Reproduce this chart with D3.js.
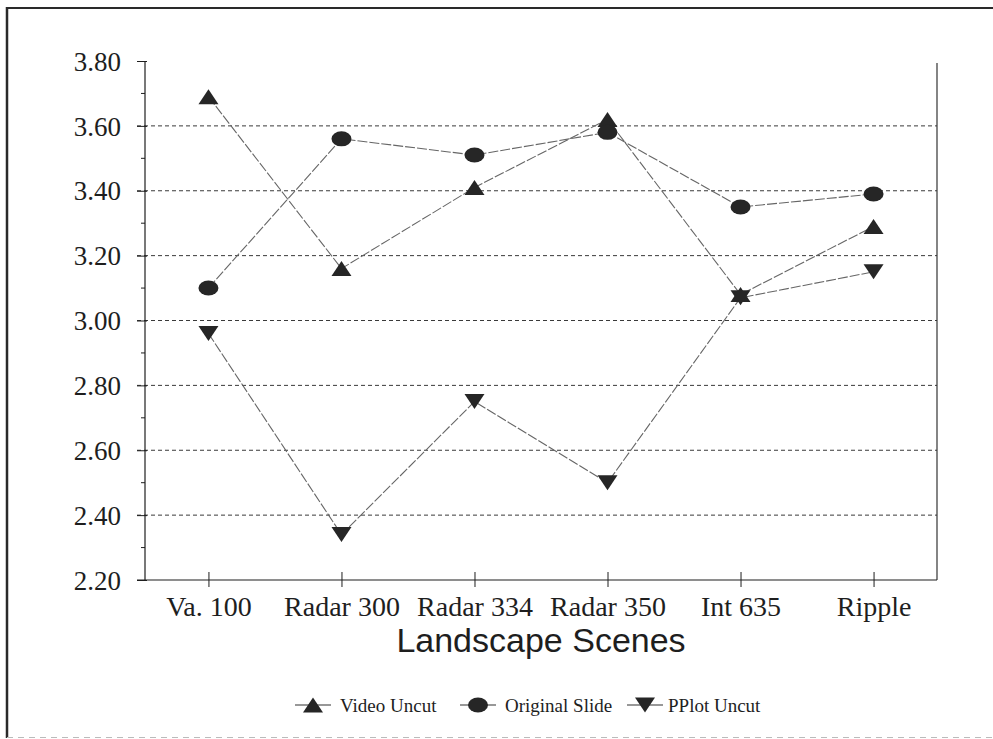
<!DOCTYPE html>
<html>
<head>
<meta charset="utf-8">
<script src="https://cdn.jsdelivr.net/npm/d3@7"></script>
<style>
  html, body { margin: 0; padding: 0; background: #fff; }
  svg { display: block; }
</style>
</head>
<body>
<svg id="chart" width="993" height="739"></svg>
<script>
const categories = ["Va. 100", "Radar 300", "Radar 334", "Radar 350", "Int 635", "Ripple"];
const videoUncut    = [3.69, 3.16, 3.41, 3.62, 3.08, 3.29];
const originalSlide = [3.10, 3.56, 3.51, 3.58, 3.35, 3.39];
const pplotUncut    = [2.96, 2.34, 2.75, 2.50, 3.07, 3.15];
const yTickValues = [2.20, 2.40, 2.60, 2.80, 3.00, 3.20, 3.40, 3.60, 3.80];
const yTickLabels = ["2.20", "2.40", "2.60", "2.80", "3.00", "3.20", "3.40", "3.60", "3.80"];
const yMinorTicks = [2.30, 2.50, 2.70, 2.90, 3.10, 3.30, 3.50, 3.70];
const seriesNames = ["Video Uncut", "Original Slide", "PPlot Uncut"];
const xTitle = "Landscape Scenes";

const series = [
  { name: seriesNames[0], values: videoUncut, shape: "up" },
  { name: seriesNames[1], values: originalSlide, shape: "circle" },
  { name: seriesNames[2], values: pplotUncut, shape: "down" }
];

const svg = d3.select("#chart");
const pL = 145, pR = 937, pT = 61, pB = 580;
const ink = "#1e1e1e";

const x = d3.scalePoint().domain(categories).range([pL, pR]).padding(0.477);
const y = d3.scaleLinear().domain([2.2, 3.8]).range([pB, pT]);

// outer frame (scanned page border)
svg.append("line").attr("x1", 7).attr("x2", 7).attr("y1", 7).attr("y2", 738)
  .attr("stroke", "#2a2a2a").attr("stroke-width", 2.5);
svg.append("line").attr("x1", 6).attr("x2", 993).attr("y1", 8).attr("y2", 8)
  .attr("stroke", "#2a2a2a").attr("stroke-width", 2);
svg.append("line").attr("x1", 7).attr("x2", 993).attr("y1", 737.5).attr("y2", 737.5)
  .attr("stroke", "#bbb").attr("stroke-width", 1).attr("stroke-dasharray", "6,5");

// gridlines
svg.append("g").selectAll("line")
  .data(yTickValues.filter(v => v > 2.2 && v < 3.8))
  .join("line")
  .attr("x1", pL - 8).attr("x2", pR)
  .attr("y1", d => y(d)).attr("y2", d => y(d))
  .attr("stroke", "#3a3a3a").attr("stroke-width", 1)
  .attr("stroke-dasharray", "4,3");

// left axis
const yAxis = d3.axisLeft(y).tickValues(yTickValues)
  .tickFormat((d, i) => yTickLabels[i]).tickSize(8).tickPadding(16);
const gy = svg.append("g").attr("transform", `translate(${pL},0)`).call(yAxis);
gy.select(".domain").remove();
gy.selectAll(".tick line").attr("stroke", ink).attr("x2", -8).attr("x1", 2);
gy.selectAll(".tick text")
  .attr("font-family", "'Liberation Serif', 'Times New Roman', serif")
  .attr("font-size", 27).attr("fill", ink).attr("dy", "0.34em");
svg.append("line").attr("x1", pL).attr("x2", pL).attr("y1", pT).attr("y2", pB)
  .attr("stroke", ink).attr("stroke-width", 1.2);
svg.append("g").selectAll("line").data(yMinorTicks).join("line")
  .attr("x1", pL - 4).attr("x2", pL)
  .attr("y1", d => y(d)).attr("y2", d => y(d))
  .attr("stroke", ink).attr("stroke-width", 1);

// right frame line
svg.append("line").attr("x1", pR).attr("x2", pR).attr("y1", pT + 2).attr("y2", pB)
  .attr("stroke", "#333").attr("stroke-width", 1.2);

// bottom axis
const xAxis = d3.axisBottom(x).tickSize(8).tickPadding(8);
const gx = svg.append("g").attr("transform", `translate(0,${pB})`).call(xAxis);
gx.select(".domain").remove();
gx.selectAll(".tick line").attr("stroke", ink).attr("y1", -8).attr("y2", 7);
gx.selectAll(".tick text")
  .attr("font-family", "'Liberation Serif', 'Times New Roman', serif")
  .attr("font-size", 28).attr("fill", ink).attr("dy", "0.71em");
svg.append("line").attr("x1", pL - 8).attr("x2", pR).attr("y1", pB).attr("y2", pB)
  .attr("stroke", ink).attr("stroke-width", 1.2);

// x title
svg.append("text").attr("x", (pL + pR) / 2).attr("y", 652)
  .attr("text-anchor", "middle")
  .attr("font-family", "'Liberation Sans', Arial, sans-serif")
  .attr("font-size", 34).attr("fill", ink).text(xTitle);

// marker path generator
function markerPath(shape, cx, cy) {
  const w = 10, h = 7.5;
  if (shape === "up") return `M${cx - w},${cy + h}L${cx + w},${cy + h}L${cx},${cy - h}Z`;
  if (shape === "down") return `M${cx - w},${cy - h}L${cx + w},${cy - h}L${cx},${cy + h}Z`;
  return `M${cx - w},${cy}A${w},${h} 0 1,0 ${cx + w},${cy}A${w},${h} 0 1,0 ${cx - w},${cy}Z`;
}

const lineGen = d3.line().x((d, i) => x(categories[i])).y(d => y(d));

series.forEach(s => {
  svg.append("path").datum(s.values).attr("d", lineGen)
    .attr("fill", "none").attr("stroke", "#666").attr("stroke-width", 1.1)
    .attr("stroke-dasharray", "10,2");
});
series.forEach(s => {
  svg.append("g").selectAll("path").data(s.values).join("path")
    .attr("d", (d, i) => markerPath(s.shape, x(categories[i]), y(d)))
    .attr("fill", "#262626");
});

// legend
const legendItems = [
  { s: series[0], lx: 295, tx: 340 },
  { s: series[1], lx: 460, tx: 505 },
  { s: series[2], lx: 627, tx: 668 }
];
const legY = 705;
legendItems.forEach(it => {
  svg.append("line").attr("x1", it.lx).attr("x2", it.lx + 36).attr("y1", legY).attr("y2", legY)
    .attr("stroke", "#333").attr("stroke-width", 1.2);
  svg.append("path").attr("d", markerPath(it.s.shape, it.lx + 18, legY)).attr("fill", "#262626");
  svg.append("text").attr("x", it.tx).attr("y", legY + 7)
    .attr("font-family", "'Liberation Serif', 'Times New Roman', serif")
    .attr("font-size", 19).attr("fill", ink).text(it.s.name);
});
</script>
</body>
</html>
